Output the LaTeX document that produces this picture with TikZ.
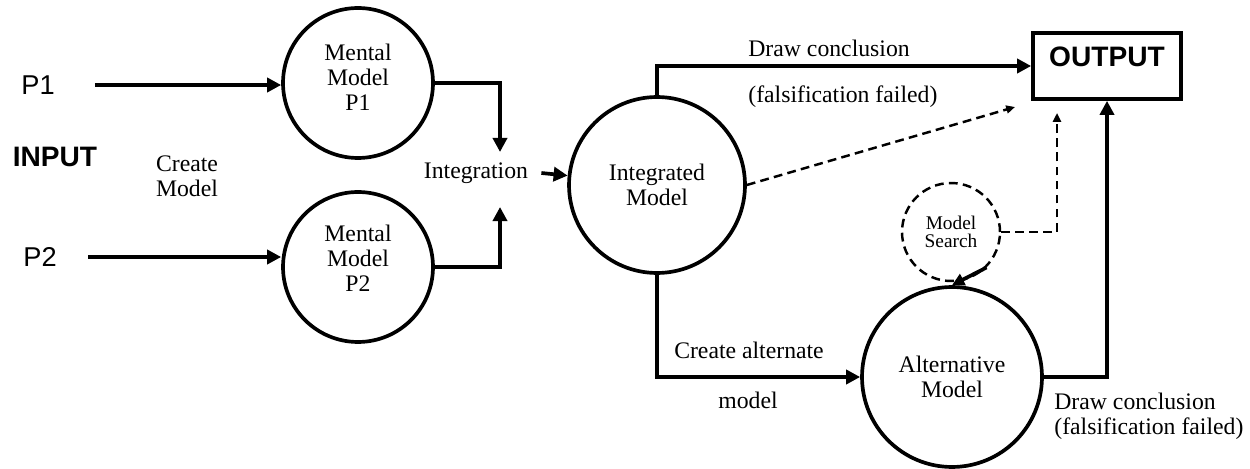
\documentclass[tikz,border=0pt]{standalone}
\usepackage{fontspec}
\setmainfont{Liberation Serif}
\newfontfamily\arialfont{Liberation Sans}
\usetikzlibrary{arrows.meta}
\tikzset{
  model/.style={circle, draw, line width=2.1pt, align=center, inner sep=0pt, font=\fontsize{13.5}{14.3}\selectfont},
  arr/.style={line width=2.1pt, -{Triangle[length=8pt, width=8pt]}},
  dasharr/.style={line width=1.4pt, dash pattern=on 5pt off 3pt, -{Triangle[length=5pt, width=4.5pt]}},
  lbl/.style={align=center, inner sep=0pt, font=\fontsize{13.5}{14.3}\selectfont},
  sans/.style={inner sep=0pt, font=\arialfont\fontsize{15.5}{18}\selectfont},
  sansbold/.style={inner sep=0pt, font=\arialfont\bfseries\fontsize{16}{19}\selectfont},
}
\begin{document}
\begin{tikzpicture}[x=0.02cm, y=-0.02cm]
        \useasboundingbox (0, 0) rectangle (1250, 469);
        \path (38, 85)    node[sans]     (p1)     {P1};
        \path (40, 257)   node[sans]     (p2)     {P2};
        \path (55, 157)   node[sansbold] (input)  {INPUT};
        \path (187, 176)  node[lbl]      (create) {Create\\Model};
        \path (358, 83)   node[model, minimum size=3cm,
                               label={[lbl, yshift=0.12cm]center:{Mental\\Model\\P1}}] (mm1) {};
        \path (358, 267)  node[model, minimum size=3cm,
                               label={[lbl, yshift=0.18cm]center:{Mental\\Model\\P2}}] (mm2) {};
        \path (476, 173)  node[lbl]      (integ)  {Integration};
        \path (657, 185)  node[model, minimum size=3.52cm] (im)  {Integrated\\Model};
        \path (952, 377)  node[model, minimum size=3.6cm]  (alt) {Alternative\\Model};
        \path (951, 232)  node[model, line width=1.4pt, dash pattern=on 5pt off 3pt, minimum size=1.96cm, font=\fontsize{11}{10.5}\selectfont] (ms) {Model\\Search};
        \path (1107, 66)  node[draw, line width=2.1pt, minimum width=2.96cm, minimum height=1.32cm] (output) {};
        \path (1107, 57)  node[sansbold] (outtxt) {OUTPUT};

        \path (748, 48)   node[lbl, anchor=west] (dc1) {Draw conclusion};
        \path (748, 97)   node[lbl, anchor=west] (ff1) {(falsification failed)};
        \path (749, 350)  node[lbl] (ca1) {Create alternate};
        \path (748, 400)  node[lbl] (ca2) {model};
        \path (1054, 416) node[lbl, anchor=west, align=left] (dc2) {Draw conclusion\\(falsification failed)};

        \coordinate (intop) at (500, 152);
        \coordinate (inbot) at (500, 207);
        \coordinate (imout) at (1015, 107);
        \coordinate (mstop) at (1057, 113);

        \draw[arr] ([xshift=0.8cm]p1.east) -- (p1 -| mm1.west);
        \draw[arr] ([xshift=0.62cm]p2.east) -- (p2 -| mm2.west);
        \draw[arr] (mm1.east) -| (intop);
        \draw[arr] (mm2.east) -| (inbot);
        \draw[arr] ([xshift=0.26cm]integ.east) -- (im.174);

        \draw[arr] (im.north) |- (output.west);
        \draw[arr] (im.south) |- (alt.west);
        \draw[arr] (alt.east) -| (output.south);

        \draw[dasharr] (im.east) -- (imout);
        \draw[dasharr] (ms.east) -| (mstop);
        \draw[arr, -{Triangle[length=7pt, width=7pt]}] (ms.-45) -- (alt.north);
    \end{tikzpicture}
\end{document}
